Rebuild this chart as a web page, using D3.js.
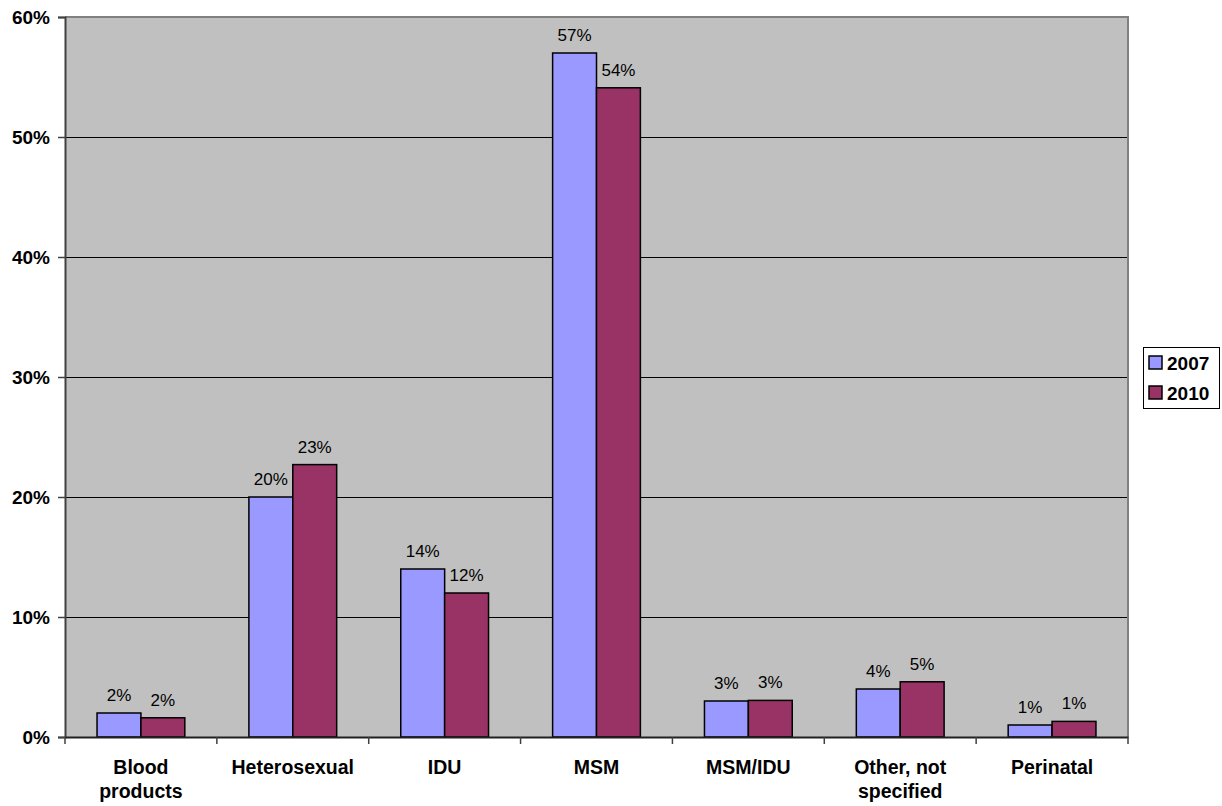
<!DOCTYPE html>
<html><head><meta charset="utf-8">
<script src="https://cdn.jsdelivr.net/npm/d3@7"></script>
<style>body{margin:0;background:#fff;} svg{display:block;font-family:"Liberation Sans",Arial,sans-serif;}</style>
</head><body>
<svg id="c" width="1222" height="806"></svg>
<script>
const categories = [["Blood","products"],["Heterosexual"],["IDU"],["MSM"],["MSM/IDU"],["Other, not","specified"],["Perinatal"]];
const seriesNames = ["2007","2010"];
const values2007 = [2.0, 20.0, 14.0, 57.0, 3.0, 4.0, 1.0];
const values2010 = [1.6, 22.7, 12.0, 54.1, 3.05, 4.6, 1.3];
const labels2007 = ["2%","20%","14%","57%","3%","4%","1%"];
const labels2010 = ["2%","23%","12%","54%","3%","5%","1%"];
const yTicks = [0,10,20,30,40,50,60];
const colors = ["#9999FF","#993366"];

const svg = d3.select("#c");
const L = 65, R = 1128, T = 17, B = 737;
const x = d3.scaleBand().domain(d3.range(categories.length)).range([L, R]).paddingInner(0).paddingOuter(0);
const y = d3.scaleLinear().domain([0,60]).range([B, T]);
const inner = d3.scaleBand().domain([0,1]).range([0, x.bandwidth()]).paddingOuter(0.73).paddingInner(0);

svg.append("rect").attr("x",L).attr("y",T).attr("width",R-L).attr("height",B-T).attr("fill","#C0C0C0");

// gridlines
svg.append("g").selectAll("line").data(yTicks.filter(t=>t>0 && t<60)).join("line")
  .attr("x1",L).attr("x2",R).attr("y1",d=>Math.round(y(d))+0.5).attr("y2",d=>Math.round(y(d))+0.5)
  .attr("stroke","#000").attr("stroke-width",1);

// border (top/right gray)
svg.append("path").attr("d",`M${L},${T}H${R}V${B}`).attr("fill","none").attr("stroke","#808080").attr("stroke-width",2);

const series = [values2007, values2010];
const labs = [labels2007, labels2010];
series.forEach((vals, si) => {
  const g = svg.append("g");
  g.selectAll("rect").data(vals).join("rect")
    .attr("x",(d,i)=>x(i)+inner(si))
    .attr("y",d=>y(d))
    .attr("width",inner.bandwidth())
    .attr("height",d=>B-y(d))
    .attr("fill",colors[si]).attr("stroke","#000").attr("stroke-width",1.5);
  g.selectAll("text").data(vals).join("text")
    .attr("x",(d,i)=>x(i)+inner(si)+inner.bandwidth()/2)
    .attr("y",d=>y(d)-12)
    .attr("text-anchor","middle").attr("font-size","17px").attr("fill","#000")
    .text((d,i)=>labs[si][i]);
});

// y axis
const yAxis = svg.append("g").attr("transform",`translate(${L},0)`)
  .call(d3.axisLeft(y).tickValues(yTicks).tickFormat(d=>d+"%").tickSize(7).tickPadding(8));
yAxis.select(".domain").attr("stroke","#404040").attr("stroke-width",2);
yAxis.selectAll(".tick line").attr("stroke","#404040").attr("stroke-width",1.5);
yAxis.selectAll("text").attr("font-size","19px").attr("font-weight","bold").attr("fill","#000")
  .attr("font-family","Liberation Sans, Arial, sans-serif");

// x axis
const xAxis = svg.append("g").attr("transform",`translate(0,${B})`)
  .call(d3.axisBottom(x).tickValues([]).tickSizeOuter(0));
xAxis.select(".domain").attr("stroke","#202020").attr("stroke-width",2);
svg.append("g").selectAll("line").data(d3.range(categories.length+1)).join("line")
  .attr("x1",i=>i<categories.length? x(i): R).attr("x2",i=>i<categories.length? x(i): R)
  .attr("y1",B).attr("y2",B+7).attr("stroke","#404040").attr("stroke-width",1.5);

svg.append("g").selectAll("text").data(categories).join("text")
  .attr("x",(d,i)=>x(i)+x.bandwidth()/2)
  .attr("y",774)
  .attr("text-anchor","middle").attr("font-size","19.5px").attr("font-weight","bold")
  .each(function(lines){
    d3.select(this).selectAll("tspan").data(lines).join("tspan")
      .attr("x",d3.select(this).attr("x")).attr("dy",(d,j)=>j===0?0:24).text(d=>d);
  });

// legend
const lg = svg.append("g");
lg.append("rect").attr("x",1143.5).attr("y",347.5).attr("width",76).attr("height",61)
  .attr("fill","#fff").attr("stroke","#000").attr("stroke-width",1);
seriesNames.forEach((s,i)=>{
  lg.append("rect").attr("x",1149).attr("y",356+i*30).attr("width",13).attr("height",13)
    .attr("fill",colors[i]).attr("stroke","#000").attr("stroke-width",1.5);
  lg.append("text").attr("x",1167).attr("y",370+i*30).attr("font-size","19px").attr("font-weight","bold").text(s);
});
</script>
</body></html>
